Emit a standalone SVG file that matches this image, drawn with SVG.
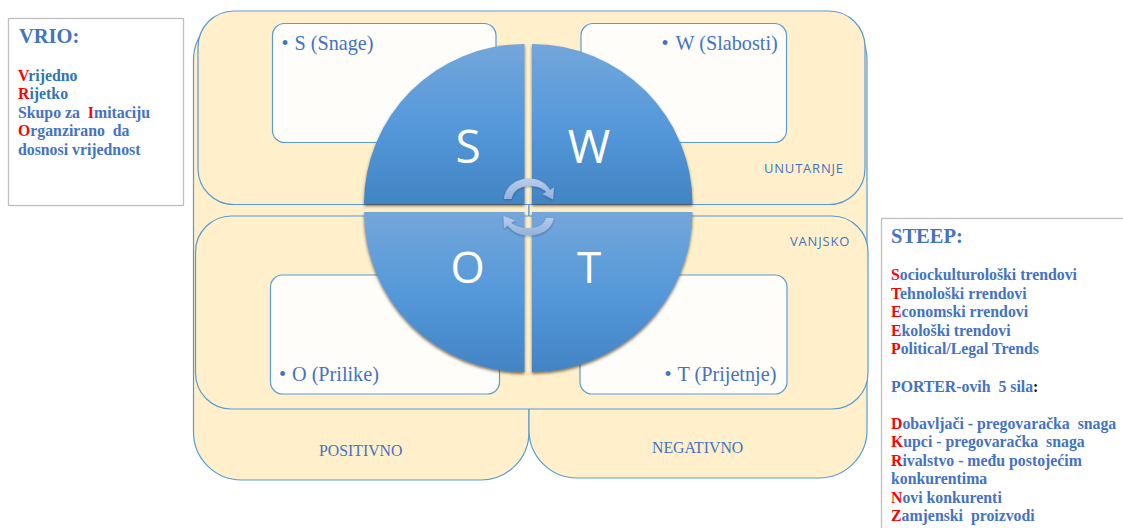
<svg xmlns="http://www.w3.org/2000/svg" width="1123" height="528" viewBox="0 0 1123 528">
<style>
.panel{fill:#fff0cb;stroke:#5b9bd5;stroke-width:1.2}
.card{fill:#fffdfa;stroke:#5b9bd5;stroke-width:1.2}
.quad{fill:url(#qg);filter:url(#sh)}
.lt{font-family:"Open Sans",sans-serif;font-size:46px;fill:#fff;text-anchor:middle}
.item{font-family:"Liberation Serif",serif;font-size:20.2px;fill:#4472c4;white-space:pre}
.cap{font-family:"Liberation Serif",serif;font-size:15.8px;fill:#4472c4}
.side{font-family:"Open Sans",sans-serif;font-size:13px;letter-spacing:.8px;fill:#4472c4}
.box{fill:#fff;stroke:#bfbfbf;stroke-width:1.3}
.h{font-family:"Liberation Serif",serif;font-weight:bold;font-size:20.5px;fill:#4472c4;white-space:pre}
.t{font-family:"Liberation Serif",serif;font-weight:bold;font-size:15.8px;fill:#4472c4;white-space:pre}
.r{fill:#ff0000}
.k{fill:#2e75b6}
.arr{fill:url(#ag);filter:url(#sa)}
</style>
<defs>
<linearGradient id="qg" x1="0" y1="0" x2="0" y2="1">
<stop offset="0" stop-color="#74a6da"/><stop offset="0.5" stop-color="#5599da"/><stop offset="1" stop-color="#4284c4"/>
</linearGradient>
<linearGradient id="ag" x1="0" y1="0" x2="0" y2="1">
<stop offset="0" stop-color="#b9cdea"/><stop offset="1" stop-color="#93b1da"/>
</linearGradient>
<filter id="sh" x="-10%" y="-10%" width="120%" height="120%">
<feDropShadow dx="0" dy="2" stdDeviation="1.6" flood-color="#3a2a10" flood-opacity="0.65"/>
</filter>
<filter id="sa" x="-20%" y="-20%" width="140%" height="150%">
<feDropShadow dx="0" dy="1" stdDeviation="1" flood-color="#1f3f70" flood-opacity="0.45"/>
</filter>
</defs>

<g id="positivno">
<rect class="panel" x="193.500" y="12" width="335.500" height="468" rx="48"/>
<text class="cap" x="319" y="456">POSITIVNO</text>
</g>
<g id="negativno">
<rect class="panel" x="529" y="12" width="338" height="466" rx="48"/>
<text class="cap" x="652" y="453">NEGATIVNO</text>
</g>
<g id="unutarnje">
<rect class="panel" x="198" y="11" width="667" height="193.500" rx="36"/>
<text class="side" x="764" y="173">UNUTARNJE</text>
</g>
<g id="vanjsko">
<rect class="panel" x="195.500" y="216" width="672.500" height="193" rx="36"/>
<text class="side" x="790" y="246">VANJSKO</text>
</g>

<g id="card-s">
<rect class="card" x="272.500" y="23.500" width="223.500" height="119" rx="12"/>
<text class="item" y="49.500"><tspan x="281.500">•</tspan><tspan x="294.500">S (Snage)</tspan></text>
</g>
<g id="card-w">
<rect class="card" x="581" y="23.500" width="205.500" height="119" rx="12"/>
<text class="item" y="49.500"><tspan x="661.500">•</tspan><tspan x="675.500">W (Slabosti)</tspan></text>
</g>
<g id="card-o">
<rect class="card" x="270.500" y="275" width="229" height="119" rx="12"/>
<text class="item" y="381"><tspan x="279">•</tspan><tspan x="292">O (Prilike)</tspan></text>
</g>
<g id="card-t">
<rect class="card" x="580" y="275" width="207" height="119" rx="12"/>
<text class="item" y="381"><tspan x="664.500">•</tspan><tspan x="677.500">T (Prijetnje)</tspan></text>
</g>

<g id="quad-s">
<path class="quad" d="M524.500,204 H364 A160.500,160 0 0 1 524.500,44 Z"/>
<text class="lt" x="468" y="163">S</text>
</g>
<g id="quad-w">
<path class="quad" d="M532,204 H692.500 A160.500,160 0 0 0 532,44 Z"/>
<text class="lt" x="589" y="163">W</text>
</g>
<g id="quad-o">
<path class="quad" d="M524.500,212 H364 A160.500,160 0 0 0 524.500,372 Z"/>
<text class="lt" x="467.500" y="283" style="font-size:44px">O</text>
</g>
<g id="quad-t">
<path class="quad" d="M532,212 H692.500 A160.500,160 0 0 1 532,372 Z"/>
<text class="lt" x="589" y="283" style="font-size:44px">T</text>
</g>

<g id="connectors">
<path class="arr" d="M504,199 C505,186 517,178.500 529,178.500 C539,178.500 546,183 550,190 L554,187.500 L553,199.500 L542.500,194 L546.500,192 C542,188 537,186 529,186 C520,186 513,191 511.500,199 Z"/>
<path class="arr" d="M553.500,218 C552.500,229 541,235.500 529,235.500 C519,235.500 512,231.500 508,225.500 L504,228.500 L503.500,216 L515,220.500 L511,223 C515,226 521,228 529,228 C538,228 544,225 546,218 Z"/>
</g>

<g id="vrio">
<rect class="box" x="8.500" y="18.500" width="175" height="187"/>
<text class="h" x="19" y="43">VRIO:</text>
<text class="t k" x="18" y="81"><tspan class="r">V</tspan>rijedno</text>
<text class="t k" x="18" y="99"><tspan class="r">R</tspan>ijetko</text>
<text class="t" x="18" y="118">Skupo za  <tspan class="r">I</tspan>mitaciju</text>
<text class="t" x="18" y="136"><tspan class="r">O</tspan>rganzirano  da</text>
<text class="t" x="18" y="155">dosnosi vrijednost</text>
</g>

<g id="steep">
<rect class="box" x="881.500" y="218.500" width="300" height="400"/>
<text class="h" x="891" y="243">STEEP:</text>
<text class="t" x="891" y="279.500"><tspan class="r">S</tspan>ociockulturološki trendovi</text>
<text class="t" x="891" y="298.500"><tspan class="r">T</tspan>ehnološki rrendovi</text>
<text class="t" x="891" y="316.500"><tspan class="r">E</tspan>conomski rrendovi</text>
<text class="t" x="891" y="335.500"><tspan class="r">E</tspan>kološki trendovi</text>
<text class="t" x="891" y="353.500"><tspan class="r">P</tspan>olitical/Legal Trends</text>
<text class="t" x="891" y="391.500">PORTER-ovih  5 sila<tspan fill="#000">:</tspan></text>
<text class="t" x="891" y="428.500"><tspan class="r">D</tspan>obavljači - pregovaračka  snaga</text>
<text class="t" x="891" y="446.500"><tspan class="r">K</tspan>upci - pregovaračka  snaga</text>
<text class="t" x="891" y="465.500"><tspan class="r">R</tspan>ivalstvo - među postojećim</text>
<text class="t" x="891" y="483.500">konkurentima</text>
<text class="t" x="891" y="502.500"><tspan class="r">N</tspan>ovi konkurenti</text>
<text class="t" x="891" y="520.500"><tspan class="r">Z</tspan>amjenski  proizvodi</text>
</g>
</svg>
